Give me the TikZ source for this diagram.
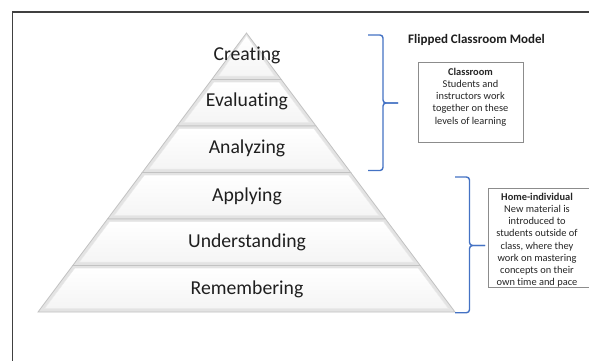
\documentclass[tikz,border=0pt]{standalone}
\usepackage{fontspec}
\setmainfont{Carlito}[Ligatures={NoCommon,NoContextual}, Contextuals=NoAlternate, RawFeature=-dlig]
\definecolor{braceblue}{HTML}{4472C4}
\begin{document}
\begin{tikzpicture}[x=1pt,y=-1pt,
  frameline/.style={draw=black!75, line width=1.3pt},
  bracebar/.style={draw=braceblue, line width=1.4pt, rounded corners=3pt},
  layerout/.style={fill=black!11, draw=black!24, line width=0.8pt},
  layerin/.style={top color=white, bottom color=black!4, draw=black!9, line width=0.5pt},
  level/.style={font=\fontsize{19.7}{22}\selectfont, text=black!88, inner sep=0pt, anchor=base},
  notebox/.style={draw=black!45, line width=0.9pt, fill=white, inner sep=0pt},
  notetext/.style={font=\fontsize{10.4}{12.2}\selectfont, align=center, text=black!85, inner sep=0pt, anchor=north}
]
\clip (0,0) rectangle (589,360);
\fill[white] (0,0) rectangle (589,360);

% page frame
\draw[frameline] (12.5,370) -- (12.5,12) -- (600,12);

% pyramid layers, apex at top
\foreach \i in {0,...,5} {
  \pgfmathsetmacro\lyTop{33+46.5*\i}
  \pgfmathsetmacro\lyBot{\lyTop+46.5}
  \pgfmathsetmacro\hwTop{0.7473*(\lyTop-33)}
  \pgfmathsetmacro\hwBot{0.7473*(\lyBot-33)}
  \pgfmathsetmacro\inTop{\lyTop+2.5}
  \pgfmathsetmacro\inBot{\lyBot-3.5}
  \pgfmathsetmacro\iwTop{max(0.7473*(\inTop-33)-4,0)}
  \pgfmathsetmacro\iwBot{0.7473*(\inBot-33)-4}
  \path[layerout] (246.5-\hwTop,\lyTop) -- (246.5+\hwTop,\lyTop) -- (246.5+\hwBot,\lyBot) -- (246.5-\hwBot,\lyBot) -- cycle;
  \path[layerin] (246.5-\iwTop,\inTop) -- (246.5+\iwTop,\inTop) -- (246.5+\iwBot,\inBot) -- (246.5-\iwBot,\inBot) -- cycle;
}

% level labels
\node[level] (creating)      at (247,60.3)  {Creating};
\node[level] (evaluating)    at (247,106.8) {Evaluating};
\node[level] (analyzing)     at (247,153.3) {Analyzing};
\node[level] (applying)      at (247,201)   {Applying};
\node[level] (understanding) at (247,247.5) {Understanding};
\node[level] (remembering)   at (247,294)   {Remembering};

% braces grouping the levels
\draw[bracebar] (368,35) -- (383,35) -- (383,103) -- (398,103);
\draw[bracebar] (368,170.5) -- (383,170.5) -- (383,103) -- (398,103);
\draw[bracebar] (455,177) -- (469.5,177) -- (469.5,245.5) -- (485,245.5);
\draw[bracebar] (455,312.7) -- (469.5,312.7) -- (469.5,245.5) -- (485,245.5);

% title
\node[font=\fontsize{13}{15}\selectfont\bfseries, anchor=base west, inner sep=0pt, text=black!88] (title) at (408,43.5) {Flipped Classroom Model};

% classroom note
\node[notebox, minimum width=105pt, minimum height=80pt, anchor=north west] (classbox) at (418,62) {};
\node[notetext] (classtext) at (470.5,67.8)
  {\textbf{Classroom}\\Students and\\instructors work\\together on these\\levels of learning};

% home note
\node[notebox, minimum width=120pt, minimum height=99pt, anchor=north west] (homebox) at (488,188) {};
\node[notetext] (hometext) at (537,192.7)
  {\textbf{Home-individual}\\New material is\\introduced to\\students outside of\\class, where they\\work on mastering\\concepts on their\\own time and pace};
\end{tikzpicture}
\end{document}
